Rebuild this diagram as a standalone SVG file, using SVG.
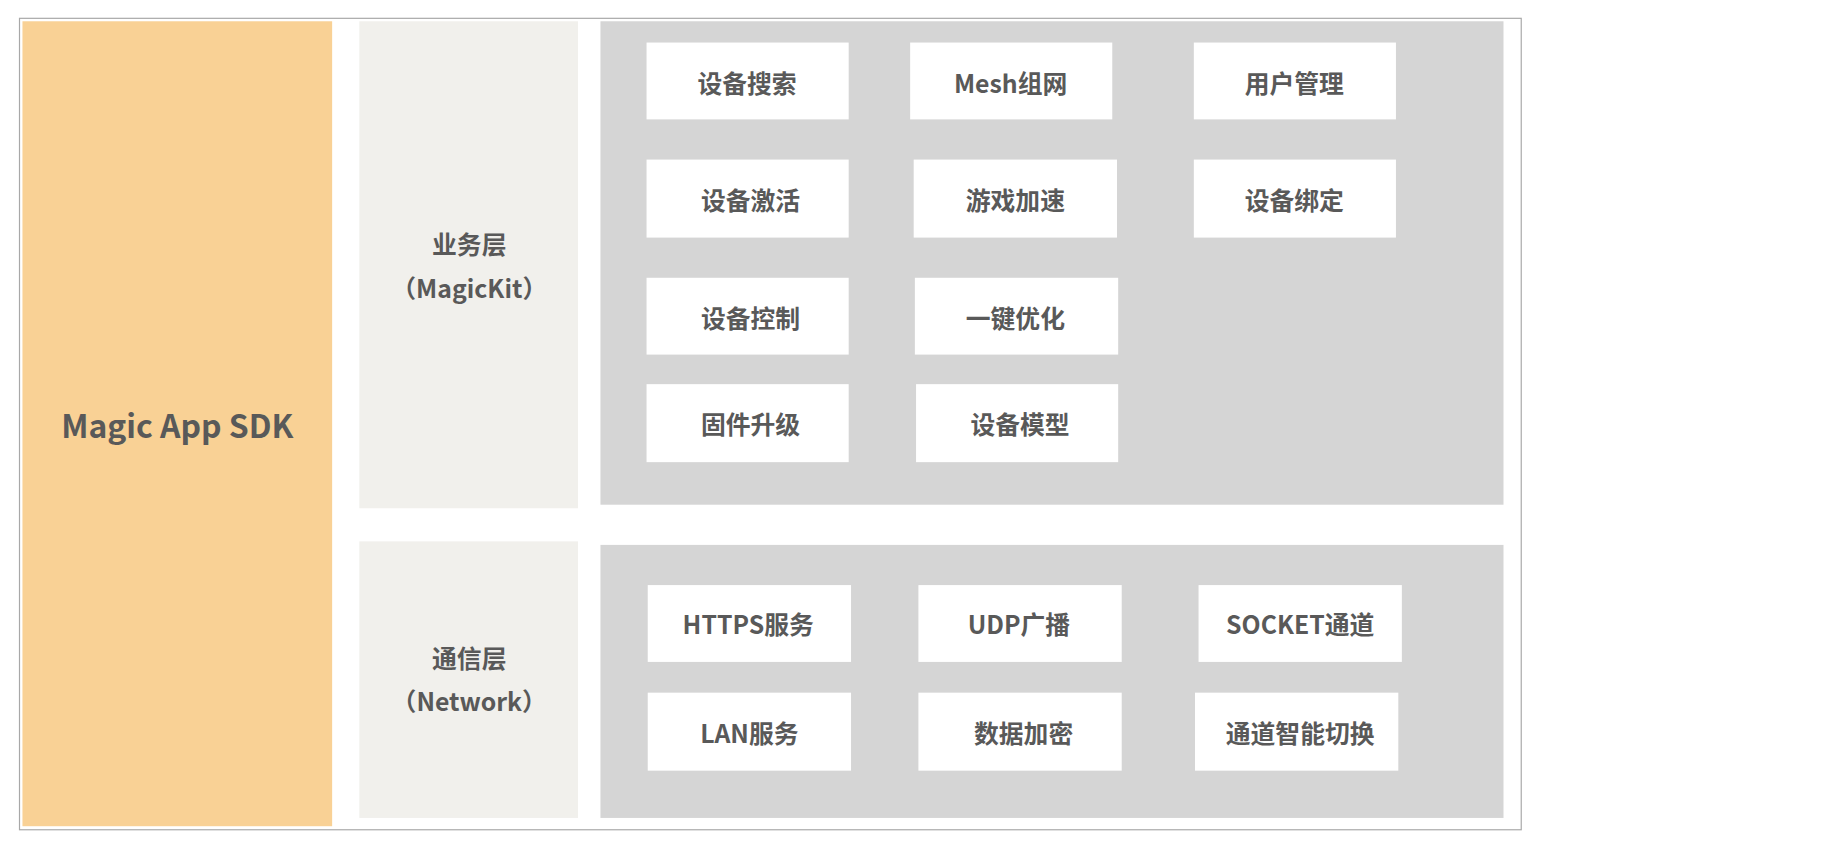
<svg xmlns="http://www.w3.org/2000/svg" width="1844" height="850" viewBox="0 0 1844 850">
<style>
.t{font-family:"Noto Sans CJK SC","Liberation Sans",sans-serif;font-weight:bold;fill:#595959;font-size:21px;text-anchor:middle;dominant-baseline:central}
.b{fill:#fff}
.g{fill:#d5d5d5}
.p{fill:#f1f0ec}
</style>
<rect width="1844" height="850" fill="#fff"/>
<g transform="scale(1.182)">
<rect x="16.5" y="15.5" width="1270.5" height="686.5" fill="none" stroke="#a8a8a8" stroke-width="1"/>
<g id="sdk"><rect x="19" y="18" width="262" height="681" fill="#f9d195"/><text class="t" x="150" y="359" style="font-size:27px">Magic App SDK</text></g>
<g id="biz-label"><rect class="p" x="304" y="18" width="185" height="412"/><text class="t" x="397" y="206">业务层</text><text class="t" x="397" y="243">（MagicKit）</text></g>
<g id="biz"><rect class="g" x="508" y="18" width="764" height="409"/></g>
<g id="net-label"><rect class="p" x="304" y="458" width="185" height="234"/><text class="t" x="397" y="556">通信层</text><text class="t" x="397" y="592">（Network）</text></g>
<g id="net"><rect class="g" x="508" y="461" width="764" height="231"/></g>
<g id="n1"><rect class="b" x="547" y="36" width="171" height="65"/><text class="t" x="632" y="69">设备搜索</text></g>
<g id="n2"><rect class="b" x="770" y="36" width="171" height="65"/><text class="t" x="855" y="69">Mesh组网</text></g>
<g id="n3"><rect class="b" x="1010" y="36" width="171" height="65"/><text class="t" x="1095" y="69">用户管理</text></g>
<g id="n4"><rect class="b" x="547" y="135" width="171" height="66"/><text class="t" x="635" y="168">设备激活</text></g>
<g id="n5"><rect class="b" x="773" y="135" width="172" height="66"/><text class="t" x="859" y="168">游戏加速</text></g>
<g id="n6"><rect class="b" x="1010" y="135" width="171" height="66"/><text class="t" x="1095" y="168">设备绑定</text></g>
<g id="n7"><rect class="b" x="547" y="235" width="171" height="65"/><text class="t" x="635" y="268">设备控制</text></g>
<g id="n8"><rect class="b" x="774" y="235" width="172" height="65"/><text class="t" x="859" y="268">一键优化</text></g>
<g id="n9"><rect class="b" x="547" y="325" width="171" height="66"/><text class="t" x="635" y="358">固件升级</text></g>
<g id="n10"><rect class="b" x="775" y="325" width="171" height="66"/><text class="t" x="863" y="358">设备模型</text></g>
<g id="m1"><rect class="b" x="548" y="495" width="172" height="65"/><text class="t" x="633" y="527">HTTPS服务</text></g>
<g id="m2"><rect class="b" x="777" y="495" width="172" height="65"/><text class="t" x="862" y="527">UDP广播</text></g>
<g id="m3"><rect class="b" x="1014" y="495" width="172" height="65"/><text class="t" x="1100" y="527">SOCKET通道</text></g>
<g id="m4"><rect class="b" x="548" y="586" width="172" height="66"/><text class="t" x="634" y="619">LAN服务</text></g>
<g id="m5"><rect class="b" x="777" y="586" width="172" height="66"/><text class="t" x="866" y="619">数据加密</text></g>
<g id="m6"><rect class="b" x="1011" y="586" width="172" height="66"/><text class="t" x="1100" y="619">通道智能切换</text></g>
<g id="connectors"/>
</g>
</svg>
